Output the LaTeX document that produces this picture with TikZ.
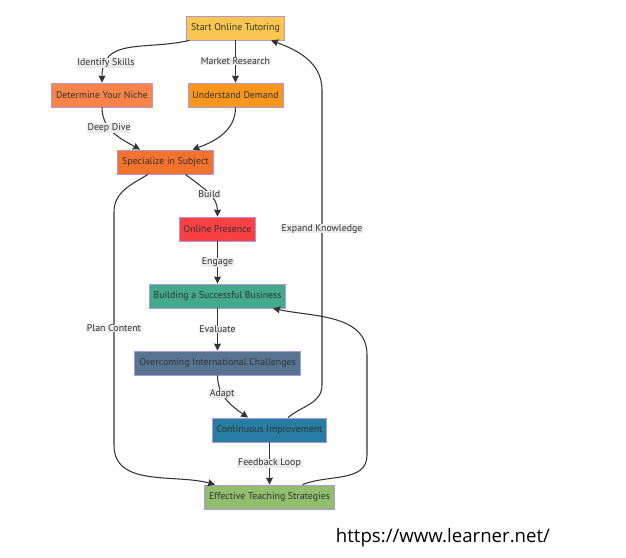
\documentclass[tikz,border=0pt]{standalone}
\usepackage{fontspec}
\setmainfont{PT Sans}
\newfontfamily\urlfont{Open Sans}
\usepackage{tikz}
\usetikzlibrary{shapes.geometric, arrows.meta, positioning}
\definecolor{nodeedge}{RGB}{176,150,220}
\definecolor{textgray}{RGB}{51,51,51}
\definecolor{linegray}{RGB}{51,51,51}
\definecolor{labelgray}{RGB}{236,236,236}
\definecolor{cstart}{RGB}{249,199,79}
\definecolor{cniche}{RGB}{249,132,74}
\definecolor{cdemand}{RGB}{248,150,30}
\definecolor{cspec}{RGB}{243,114,44}
\definecolor{conline}{RGB}{249,65,68}
\definecolor{cbusiness}{RGB}{67,170,139}
\definecolor{cchallenge}{RGB}{87,117,144}
\definecolor{cimprove}{RGB}{39,125,161}
\definecolor{cteach}{RGB}{144,190,109}
\tikzstyle{process} = [rectangle, minimum height=1.2cm, inner xsep=0.22cm, text centered, draw=nodeedge, line width=1.2pt, text=textgray, font=\fontsize{14}{16}\selectfont]
\tikzstyle{lbl} = [fill=labelgray, inner xsep=1pt, inner ysep=0.5pt, text=textgray, font=\fontsize{14}{16}\selectfont]
\tikzstyle{arrow} = [line width=1.5pt, draw=linegray, ->, >={Stealth[length=10pt,width=10pt,inset=1pt]}]

\begin{document}
\begin{tikzpicture}[x=0.05cm, y=-0.05cm, node distance=3.35cm]
        \useasboundingbox (0,0) rectangle (626,557);
        % Nodes
        \node (start) [process, fill=cstart] at (235.5,28) {Start Online Tutoring};
        \node (niche) [process, fill=cniche, below of=start, xshift=-6.675cm] {Determine Your Niche};
        \node (demand) [process, fill=cdemand, below of=start] {Understand Demand};
        \node (spec) [process, fill=cspec, below of=demand, xshift=-3.5cm] {Specialize in Subject};
        \node (online) [process, fill=conline, below of=spec, xshift=2.6cm] {Online Presence};
        \node (business) [process, fill=cbusiness, below of=online] {Building a Successful Business};
        \node (challenge) [process, fill=cchallenge, below of=business] {Overcoming International Challenges};
        \node (improve) [process, fill=cimprove, below of=challenge, xshift=2.6cm] {Continuous Improvement};
        \node (teach) [process, fill=cteach, below of=improve] {Effective Teaching Strategies};
        \node (url) at (443,538) {\urlfont\fontsize{26.5}{30}\selectfont https://www.learner.net/};

        % Bends of the long connectors
        \coordinate (planA) at (114,212);
        \coordinate (planB) at (114,445);
        \coordinate (expA) at (322,385);
        \coordinate (expB) at (322,90);
        \coordinate (backA) at (367,455);
        \coordinate (backB) at (367,355);

        % Arrows
        \draw [arrow] ([xshift=0.15cm]start.south west) to[out=193, in=90, looseness=1.2] node [lbl, pos=0.82] {Identify Skills} (niche.north);
        \draw [arrow] (start) -- node [lbl] {Market Research} (demand);
        \draw [arrow] (niche.south) to[out=-90, in=151] node [lbl, pos=0.38] {Deep Dive} ([xshift=-1.275cm]spec.north);
        \draw [arrow] (demand.south) to[out=-90, in=20] ([xshift=1.35cm]spec.north);
        \draw [arrow] ([xshift=1cm]spec.south) to[out=-38, in=90] node [lbl, pos=0.55] {Build} (online.north);
        \draw [arrow] ([xshift=-0.875cm]spec.south) to[out=211, in=90] (planA) -- node [lbl] {Plan Content} (planB) to[out=-90, in=165] ([xshift=-2.725cm]teach.north);
        \draw [arrow] (online) -- node [lbl] {Engage} (business);
        \draw [arrow] (business) -- node [lbl] {Evaluate} (challenge);
        \draw [arrow] (challenge.south) to[out=-90, in=145] node [lbl, pos=0.35] {Adapt} ([xshift=-1.075cm]improve.north);
        \draw [arrow] ([xshift=0.925cm]improve.north) to[out=40, in=-90] (expA) -- node [lbl, pos=0.53] {Expand Knowledge} (expB) to[out=90, in=-20] ([xshift=1.775cm]start.south);
        \draw [arrow] (improve) -- node [lbl] {Feedback Loop} (teach);
        \draw [arrow] ([xshift=1.65cm]teach.north) to[out=22, in=-90] (backA) -- (backB) to[out=90, in=-12] ([xshift=2.775cm]business.south);
    \end{tikzpicture}
\end{document}
